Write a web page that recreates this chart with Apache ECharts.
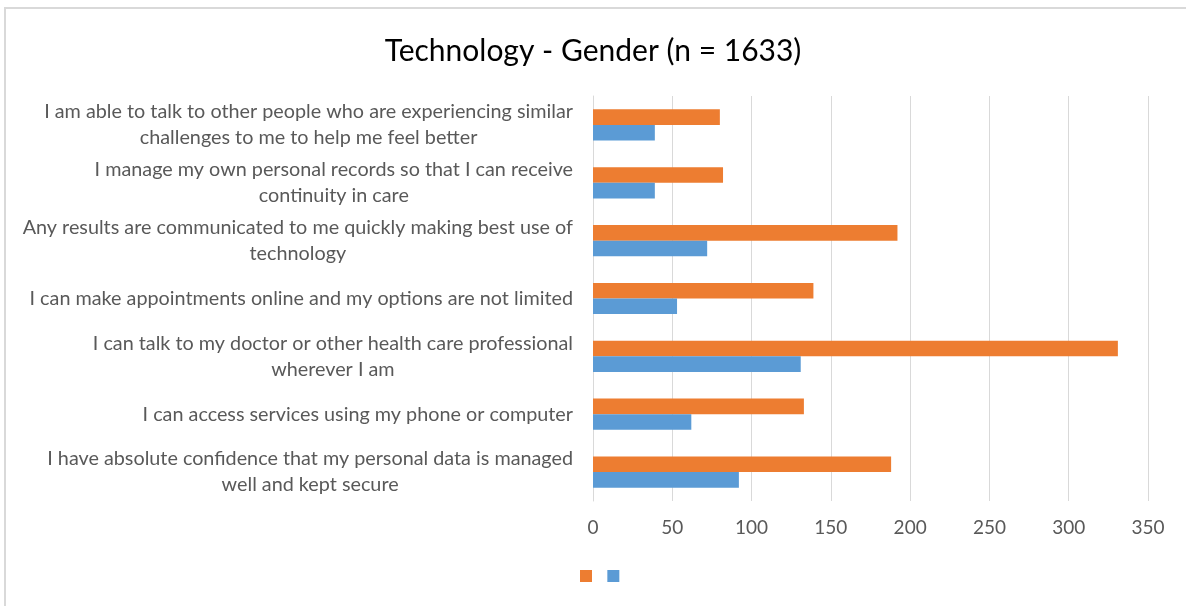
<!DOCTYPE html>
<html>
<head>
    <meta charset="utf-8">
    <title>Technology - Gender</title>
    <script src="https://cdn.jsdelivr.net/npm/echarts@6/dist/echarts.min.js"></script>
    <style type="text/css">
        html, body {margin:0; padding:0; background:#fff; overflow:hidden;}
    </style>
</head>
<body>
<div id="container" style="width:1186px;height:606px;"></div>

<script type="text/javascript">
    // categories listed bottom to top, like the value axis in Excel
    var categories = [
        'I have absolute confidence that my personal data is managed\nwell and kept secure',
        'I can access services using my phone or computer',
        'I can talk to my doctor or other health care professional\nwherever I am',
        'I can make appointments online and my options are not limited',
        'Any results are communicated to me quickly making best use of\ntechnology',
        'I manage my own personal records so that I can receive\ncontinuity in care',
        'I am able to talk to other people who are experiencing similar\nchallenges to me to help me feel better'
    ];
    var orangeValues = [188, 133, 331, 139, 192, 82, 80];
    var blueValues = [92, 62, 131, 53, 72, 39, 39];
    var xTicks = [0, 50, 100, 150, 200, 250, 300, 350];

    var fontName = 'Lato';
    var myChart = echarts.init(document.getElementById('container'));

    var option = {
        backgroundColor: '#fff',
        animation: false,
        title: {
            text: 'Technology - Gender (n = 1633)',
            left: 'center',
            top: 31,
            textStyle: {
                fontFamily: fontName,
                fontSize: 30,
                fontWeight: 'normal',
                color: '#000'
            }
        },
        legend: {
            left: 580,
            top: 570,
            padding: 0,
            itemWidth: 12,
            itemHeight: 12,
            itemGap: 7,
            icon: 'rect',
            data: [' ', '  '],
            textStyle: {fontSize: 12, padding: 0}
        },
        grid: {
            left: 593,
            right: 38,
            top: 96,
            bottom: 105,
            outerBoundsMode: 'none'
        },
        xAxis: {
            type: 'value',
            min: xTicks[0],
            max: xTicks[xTicks.length - 1],
            interval: 50,
            axisLine: {show: false},
            axisTick: {show: false},
            splitLine: {lineStyle: {color: '#d9d9d9', width: 1}},
            axisLabel: {
                margin: 17,
                color: '#595959',
                fontFamily: fontName,
                fontSize: 19
            }
        },
        yAxis: {
            type: 'category',
            data: categories,
            axisLine: {show: true, lineStyle: {color: '#d9d9d9'}},
            axisTick: {show: false},
            axisLabel: {
                margin: 20,
                align: 'right',
                formatter: function (v) {
                    return v.split('\n').map(function (s) { return '{a|' + s + '}'; }).join('\n');
                },
                rich: {
                    a: {
                        align: 'center',
                        color: '#595959',
                        fontFamily: fontName,
                        fontSize: 19.8,
                        lineHeight: 26
                    }
                }
            }
        },
        series: [
            {
                name: ' ',
                type: 'bar',
                data: orangeValues,
                barGap: 0,
                barCategoryGap: '46%',
                itemStyle: {color: '#ed7d31'}
            },
            {
                name: '  ',
                type: 'bar',
                data: blueValues,
                barGap: 0,
                barCategoryGap: '46%',
                itemStyle: {color: '#5b9bd5'}
            }
        ],
        graphic: [
            {type: 'line', shape: {x1: 4, y1: 8, x2: 1186, y2: 8}, style: {stroke: '#d9d9d9', lineWidth: 2}},
            {type: 'line', shape: {x1: 5, y1: 7, x2: 5, y2: 606}, style: {stroke: '#d9d9d9', lineWidth: 2}}
        ]
    };

    myChart.setOption(option);
</script>
</body>
</html>
